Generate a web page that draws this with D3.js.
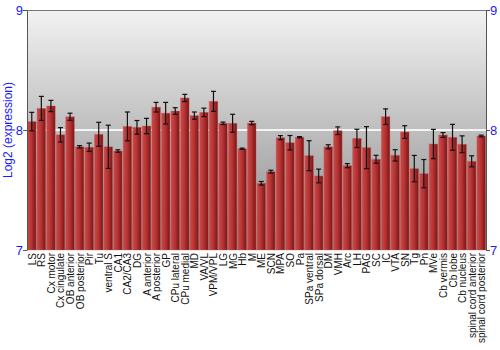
<!DOCTYPE html>
<html><head><meta charset="utf-8">
<script src="https://cdn.jsdelivr.net/npm/d3@7"></script>
<style>body{margin:0;background:#fff;}svg{display:block;font-family:"Liberation Sans",Arial,sans-serif;}</style>
</head><body><svg id="c" width="500" height="350"></svg>
<script>
const categories = ["LS","RS","Cx motor","Cx cingulate","OB anterior","OB posterior","Pir","Tu","ventral S","CA1","CA2/CA3","DG","A anterior","A posterior","GP","CPu lateral","CPu medial","MD","VA/VL","VPM/VPL","LG","MG","Hb","M","ME","SCN","MPA","SO","Pa","SPa ventral","SPa dorsal","DM","VMH","Arc","LH","PAG","SC","IC","VTA","SN","Tg","Pn","MVe","Cb vermis","Cb lobe","Cb nucleus","spinal cord anterior","spinal cord posterior"];
const values = [8.07,8.18,8.20,7.96,8.11,7.86,7.856,7.964,7.86,7.825,8.03,8.022,8.033,8.19,8.14,8.158,8.267,8.12,8.147,8.239,8.056,8.056,7.844,8.058,7.556,7.653,7.936,7.894,7.94,7.786,7.617,7.86,7.994,7.703,7.93,7.853,7.756,8.111,7.789,7.983,7.678,7.636,7.883,7.958,7.939,7.881,7.739,7.95];
const errors = [0.077,0.10,0.047,0.06,0.03,0.01,0.035,0.10,0.18,0.01,0.12,0.057,0.064,0.04,0.09,0.028,0.03,0.03,0.035,0.083,0.01,0.075,0.005,0.014,0.015,0.012,0.017,0.06,0.005,0.125,0.057,0.017,0.032,0.017,0.076,0.175,0.033,0.065,0.047,0.053,0.11,0.118,0.122,0.02,0.108,0.07,0.046,0.007];
const yTicks = [7,8,9];

const svg = d3.select("#c");
const L=27, R=486, T=10, B=250;
const x = d3.scaleBand().domain(categories).range([L,R]).paddingInner(0.1).paddingOuter(0.05);
const y = d3.scaleLinear().domain([7,9]).range([B,T]);
const defs = svg.append("defs");
const bg = defs.append("linearGradient").attr("id","bg").attr("x1",0).attr("x2",0).attr("y1",0).attr("y2",1);
bg.append("stop").attr("offset","0%").attr("stop-color","#f2f2f2");
bg.append("stop").attr("offset","100%").attr("stop-color","#8a8a8a");
const bar = defs.append("linearGradient").attr("id","bar").attr("x1",0).attr("x2",1).attr("y1",0).attr("y2",0);
bar.append("stop").attr("offset","0%").attr("stop-color","#c84a4a");
bar.append("stop").attr("offset","45%").attr("stop-color","#b83434");
bar.append("stop").attr("offset","100%").attr("stop-color","#7a1414");

svg.append("rect").attr("x",L).attr("y",T).attr("width",R-L).attr("height",B-T).attr("fill","url(#bg)");
svg.append("line").attr("x1",L).attr("x2",R).attr("y1",y(8)).attr("y2",y(8)).attr("stroke","#f4f4f4").attr("stroke-width",2);
svg.append("line").attr("x1",L).attr("x2",R).attr("y1",T+0.5).attr("y2",T+0.5).attr("stroke","#777").attr("stroke-width",1);

const g = svg.append("g");
g.selectAll("rect.b").data(categories).join("rect").attr("class","b")
  .attr("x",d=>x(d)).attr("width",x.bandwidth())
  .attr("y",(d,i)=>y(values[i])).attr("height",(d,i)=>B-y(values[i]))
  .attr("fill","url(#bar)").attr("stroke","#d06060").attr("stroke-opacity",0.5).attr("stroke-width",0.8);

const eb = g.selectAll("g.e").data(categories).join("g").attr("class","e")
  .attr("transform",d=>`translate(${x(d)+x.bandwidth()/2},0)`).attr("stroke","#111").attr("stroke-width",1.2);
eb.append("line").attr("y1",(d,i)=>y(values[i]+errors[i])).attr("y2",(d,i)=>y(values[i]-errors[i]));
eb.append("line").attr("x1",-2.5).attr("x2",2.5).attr("y1",(d,i)=>y(values[i]+errors[i])).attr("y2",(d,i)=>y(values[i]+errors[i]));
eb.append("line").attr("x1",-2.5).attr("x2",2.5).attr("y1",(d,i)=>y(values[i]-errors[i])).attr("y2",(d,i)=>y(values[i]-errors[i]));

const la = svg.append("g").attr("transform",`translate(${L},0)`).call(d3.axisLeft(y).tickValues(yTicks).tickFormat(d3.format("d")).tickSize(4).tickSizeOuter(0));
const ra = svg.append("g").attr("transform",`translate(${R},0)`).call(d3.axisRight(y).tickValues(yTicks).tickFormat(d3.format("d")).tickSize(4).tickSizeOuter(0));
[la,ra].forEach(a=>{a.select(".domain").attr("stroke","#555");a.selectAll(".tick line").attr("stroke","#555");
  a.selectAll("text").attr("fill","#1a1aff").attr("font-size",13).attr("font-family","Liberation Sans, Arial, sans-serif");});
la.selectAll("text").attr("x",-4);
ra.selectAll("text").attr("x",4);

svg.append("text").attr("transform",`translate(12,130) rotate(-90)`).attr("text-anchor","middle")
  .attr("fill","#1a1aff").attr("font-size",12).text("Log2 (expression)");

svg.append("g").selectAll("text").data(categories).join("text")
  .attr("transform",d=>`translate(${x(d)+x.bandwidth()/2+4},253) rotate(-90)`)
  .attr("text-anchor","end").attr("font-size",10).attr("fill","#111").text(d=>d);
</script></body></html>
